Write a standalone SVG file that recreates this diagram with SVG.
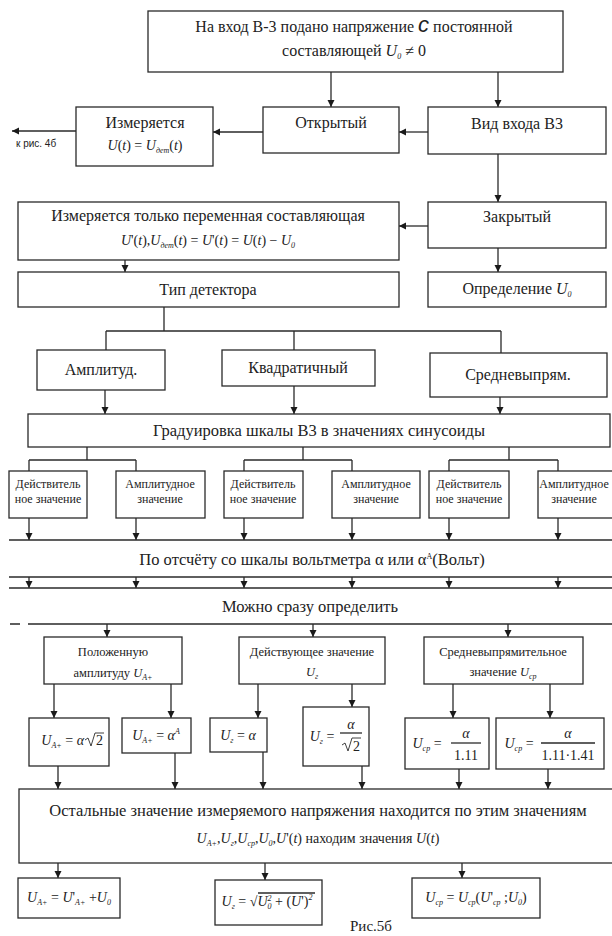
<svg xmlns="http://www.w3.org/2000/svg" width="612" height="936" viewBox="0 0 612 936" font-family="Liberation Serif, serif">
<defs>
<marker id="ah" viewBox="0 0 10 10" refX="10" refY="5" markerWidth="7" markerHeight="8" markerUnits="userSpaceOnUse" orient="auto">
<path d="M0,0 L10,5 L0,10 z" fill="#1a1a1a"/>
</marker>
<style>
.b{fill:#fff;stroke:#2a2a2a;stroke-width:1.3}
.c{fill:none;stroke:#2a2a2a;stroke-width:1.3}
.r{fill:none;stroke:#2a2a2a;stroke-width:0.9}
.a{fill:none;stroke:#2a2a2a;stroke-width:1.3;marker-end:url(#ah)}
text{font-family:"Liberation Serif",serif;fill:#222}
.t{font-size:16px;text-anchor:middle}
.m{font-size:16.5px;text-anchor:middle}
.s{font-size:12px;text-anchor:middle}
.n{font-size:12.5px;text-anchor:middle}
.i{font-style:italic}
.f{font-size:14px;text-anchor:middle}
.fe{font-size:14px;text-anchor:end}
.fs{font-size:14px;text-anchor:start}
.sub{font-size:8px;font-style:italic}
.sans{font-family:"Liberation Sans",sans-serif}
</style>
</defs>
<rect width="612" height="936" fill="#fff"/>

<g id="connectors">
<path class="a" d="M331,72 V107"/>
<path class="a" d="M498,72 V107"/>
<path class="a" d="M428,132 H399"/>
<path class="a" d="M263,132 H213"/>
<path class="a" d="M76,131 H12"/>
<path class="a" d="M498,154 V202"/>
<path class="a" d="M428,226 H399"/>
<path class="a" d="M498,248 V272"/>
<path class="a" d="M125,260 V272"/>
<path class="c" d="M164,307 V331 M106,331 H501 M106,331 V350 M294,331 V350 M501,331 V353"/>
<path class="a" d="M105,390 V414"/>
<path class="a" d="M294,386 V414"/>
<path class="a" d="M500,397 V414"/>
<path class="c" d="M87,447 V460 M29,460 H136 M29,460 V471 M136,460 V471"/>
<path class="c" d="M303,447 V460 M244,460 H352 M244,460 V471 M352,460 V471"/>
<path class="c" d="M509,447 V460 M449,460 H558 M449,460 V471 M558,460 V471"/>
<path class="a" d="M29,518 V540"/>
<path class="a" d="M136,518 V540"/>
<path class="a" d="M244,518 V540"/>
<path class="a" d="M352,518 V540"/>
<path class="a" d="M449,518 V540"/>
<path class="a" d="M558,518 V540"/>
<path class="c" d="M9,540 H612"/>
<path class="c" d="M9,577 H612"/>
<path class="a" d="M29,577 V588"/>
<path class="a" d="M136,577 V588"/>
<path class="a" d="M244,577 V588"/>
<path class="a" d="M352,577 V588"/>
<path class="a" d="M449,577 V588"/>
<path class="a" d="M558,577 V588"/>
<path class="c" d="M9,588 H612"/>
<path class="c" d="M10,624 H20 M28,624 H612"/>
<path class="a" d="M107,624 V637"/>
<path class="a" d="M313,624 V637"/>
<path class="a" d="M508,624 V637"/>
<path class="a" d="M54,684 V718"/>
<path class="a" d="M171,684 V718"/>
<path class="a" d="M258,684 V718"/>
<path class="a" d="M352,684 V707"/>
<path class="a" d="M453,684 V718"/>
<path class="a" d="M550,684 V718"/>
<path class="a" d="M58,766 V789"/>
<path class="a" d="M175,753 V789"/>
<path class="a" d="M263,752 V789"/>
<path class="a" d="M362,766 V789"/>
<path class="a" d="M459,769 V789"/>
<path class="a" d="M548,769 V789"/>
<path class="a" d="M58,863 V878"/>
<path class="a" d="M265,863 V880"/>
<path class="a" d="M462,863 V878"/>
</g>

<g id="n-top">
<rect class="b" x="148" y="11" width="415" height="61"/>
<text class="t" x="354" y="32">На вход В-3 подано напряжение <tspan font-size="22" font-style="italic" class="sans">c</tspan>  постоянной</text>
<text class="t" x="354" y="56">составляющей   <tspan class="i">U</tspan><tspan class="sub" dy="3">0</tspan><tspan dy="-3"> ≠ 0</tspan></text>
</g>

<g id="n-vid">
<rect class="b" x="428" y="107" width="178" height="47"/>
<text class="t" x="517" y="129">Вид входа В3</text>
</g>

<g id="n-open">
<rect class="b" x="263" y="107" width="136" height="46"/>
<text class="t" x="331" y="128">Открытый</text>
</g>

<g id="n-meas">
<rect class="b" x="76" y="107" width="137" height="59"/>
<text class="t" x="145" y="128">Измеряется</text>
<text class="f" x="145" y="150"><tspan class="i">U</tspan>(<tspan class="i">t</tspan>) = <tspan class="i">U</tspan><tspan class="sub" dy="3">дет</tspan><tspan dy="-3">(</tspan><tspan class="i">t</tspan>)</text>
</g>
<text class="sans" x="16" y="147" font-size="10">к рис. 4б</text>

<g id="n-closed">
<rect class="b" x="428" y="202" width="178" height="46"/>
<text class="t" x="517" y="222">Закрытый</text>
</g>

<g id="n-ac">
<rect class="b" x="18" y="202" width="381" height="58"/>
<text class="t" x="208" y="221">Измеряется только переменная составляющая</text>
<text class="f" x="208" y="245"><tspan class="i">U</tspan>'(<tspan class="i">t</tspan>),<tspan class="i">U</tspan><tspan class="sub" dy="3">дет</tspan><tspan dy="-3">(</tspan><tspan class="i">t</tspan>) = <tspan class="i">U</tspan>'(<tspan class="i">t</tspan>) = <tspan class="i">U</tspan>(<tspan class="i">t</tspan>) − <tspan class="i">U</tspan><tspan class="sub" dy="3">0</tspan></text>
</g>

<g id="n-u0">
<rect class="b" x="428" y="272" width="178" height="35"/>
<text class="t" x="517" y="294">Определение <tspan class="i">U</tspan><tspan class="sub" dy="3">0</tspan></text>
</g>

<g id="n-det">
<rect class="b" x="18" y="272" width="381" height="35"/>
<text class="t" x="208" y="295">Тип детектора</text>
</g>

<g id="n-amp">
<rect class="b" x="37" y="350" width="128" height="40"/>
<text class="t" x="101" y="375">Амплитуд.</text>
</g>
<g id="n-sq">
<rect class="b" x="222" y="350" width="153" height="36"/>
<text class="t" x="298" y="373">Квадратичный</text>
</g>
<g id="n-avg">
<rect class="b" x="430" y="353" width="177" height="44"/>
<text class="t" x="518" y="380">Средневыпрям.</text>
</g>

<g id="n-grad">
<rect class="b" x="28" y="414" width="582" height="33"/>
<text class="m" x="319" y="436">Градуировка шкалы В3 в значениях синусоиды</text>
</g>

<g id="n-d1">
<rect class="b" x="9" y="471" width="78" height="47"/>
<text class="s" x="48" y="488">Действитель</text>
<text class="s" x="48" y="503">ное значение</text>
</g>
<g id="n-a1">
<rect class="b" x="116" y="471" width="89" height="47"/>
<text class="s" x="160" y="488">Амплитудное</text>
<text class="s" x="160" y="503">значение</text>
</g>
<g id="n-d2">
<rect class="b" x="224" y="471" width="79" height="47"/>
<text class="s" x="263" y="488">Действитель</text>
<text class="s" x="263" y="503">ное значение</text>
</g>
<g id="n-a2">
<rect class="b" x="332" y="471" width="88" height="47"/>
<text class="s" x="376" y="488">Амплитудное</text>
<text class="s" x="376" y="503">значение</text>
</g>
<g id="n-d3">
<rect class="b" x="429" y="471" width="80" height="47"/>
<text class="s" x="469" y="488">Действитель</text>
<text class="s" x="469" y="503">ное значение</text>
</g>
<g id="n-a3">
<rect class="b" x="538" y="471" width="80" height="47"/>
<text class="s" x="574" y="488" font-size="11.5">Амплитудное</text>
<text class="s" x="574" y="503">значение</text>
</g>

<g id="n-read">
<text class="m" x="312" y="565">По  отсчёту со шкалы вольтметра α или α<tspan font-size="8" dy="-6">A</tspan><tspan dy="6">(Вольт)</tspan></text>
</g>
<g id="n-can">
<text class="m" x="310" y="612">Можно сразу определить</text>
</g>

<g id="n-pa">
<rect class="b" x="44" y="637" width="138" height="47"/>
<text class="n" x="113" y="656">Положенную</text>
<text class="n" x="113" y="677">амплитуду  <tspan class="i">U</tspan><tspan class="sub" dy="3">А+</tspan></text>
</g>
<g id="n-rms">
<rect class="b" x="239" y="637" width="146" height="47"/>
<text class="n" x="312" y="656">Действующее значение</text>
<text class="n i" x="312" y="676">U<tspan class="sub" dy="3">г</tspan></text>
</g>
<g id="n-sr">
<rect class="b" x="424" y="637" width="159" height="47"/>
<text class="n" x="503" y="656">Средневыпрямительное</text>
<text class="n" x="503" y="676">значение <tspan class="i">U</tspan><tspan class="sub" dy="3">ср</tspan></text>
</g>

<g id="n-f1">
<rect class="b" x="29" y="718" width="80" height="48"/>
<text class="fe" x="84" y="745"><tspan class="i">U</tspan><tspan class="sub" dy="3">А+</tspan><tspan dy="-3"> = </tspan><tspan class="i">α</tspan></text>
<path class="r" d="M85,740 L88,738 L91,746 L95,733 H104"/>
<text class="fs" x="96" y="745">2</text>
</g>
<g id="n-f2">
<rect class="b" x="122" y="718" width="69" height="35"/>
<text class="f" x="156" y="740"><tspan class="i">U</tspan><tspan class="sub" dy="3">А+</tspan><tspan dy="-3"> = </tspan><tspan class="i">α</tspan><tspan class="sub" dy="-6">A</tspan></text>
</g>
<g id="n-f3">
<rect class="b" x="210" y="718" width="57" height="34"/>
<text class="f" x="238" y="740"><tspan class="i">U</tspan><tspan class="sub" dy="3">г</tspan><tspan dy="-3"> = </tspan><tspan class="i">α</tspan></text>
</g>
<g id="n-f4">
<rect class="b" x="303" y="707" width="66" height="59"/>
<text class="f" x="322" y="741"><tspan class="i">U</tspan><tspan class="sub" dy="3">г</tspan><tspan dy="-3"> =</tspan></text>
<text class="f i" x="351" y="729">α</text>
<path class="c" d="M340,733 H362" stroke-width="0.8"/>
<path class="r" d="M342,745 L345,743 L348,751 L352,738 H361"/>
<text class="fs" x="353" y="751">2</text>
</g>
<g id="n-f5">
<rect class="b" x="405" y="718" width="84" height="51"/>
<text class="f" x="427" y="748"><tspan class="i">U</tspan><tspan class="sub" dy="3">ср</tspan><tspan dy="-3"> =</tspan></text>
<text class="f i" x="466" y="738">α</text>
<path class="c" d="M451,743 H481" stroke-width="0.8"/>
<text class="f" x="466" y="760">1.11</text>
</g>
<g id="n-f6">
<rect class="b" x="496" y="718" width="108" height="51"/>
<text class="f" x="519" y="748"><tspan class="i">U</tspan><tspan class="sub" dy="3">ср</tspan><tspan dy="-3"> =</tspan></text>
<text class="f i" x="568" y="738">α</text>
<path class="c" d="M541,743 H595" stroke-width="0.8"/>
<text class="f" x="568" y="760">1.11·1.41</text>
</g>

<g id="n-rest">
<rect class="b" x="19" y="789" width="594" height="74"/>
<text class="m" x="318" y="816">Остальные значение измеряемого напряжения  находится по этим значениям</text>
<text class="f" x="318" y="843"><tspan class="i">U</tspan><tspan class="sub" dy="3">А+</tspan><tspan dy="-3">,</tspan><tspan class="i">U</tspan><tspan class="sub" dy="3">г</tspan><tspan dy="-3">,</tspan><tspan class="i">U</tspan><tspan class="sub" dy="3">ср</tspan><tspan dy="-3">,</tspan><tspan class="i">U</tspan><tspan class="sub" dy="3">0</tspan><tspan dy="-3">,</tspan><tspan class="i">U</tspan>'(<tspan class="i">t</tspan>) находим значения <tspan class="i">U</tspan>(<tspan class="i">t</tspan>)</text>
</g>

<g id="n-r1">
<rect class="b" x="18" y="878" width="102" height="40"/>
<text class="f" x="69" y="902"><tspan class="i">U</tspan><tspan class="sub" dy="3">А+</tspan><tspan dy="-3"> = </tspan><tspan class="i">U</tspan>'<tspan class="sub" dy="3">А+</tspan><tspan dy="-3"> +</tspan><tspan class="i">U</tspan><tspan class="sub" dy="3">0</tspan></text>
</g>
<g id="n-r2">
<rect class="b" x="215" y="880" width="107" height="45"/>
<text class="f" x="267" y="906"><tspan class="i">U</tspan><tspan class="sub" dy="3">г</tspan><tspan dy="-3"> = √</tspan><tspan class="i">U</tspan><tspan class="sub" dy="-5">2</tspan><tspan class="sub" dx="-4" dy="8">0</tspan><tspan dy="-3"> + (</tspan><tspan class="i">U</tspan>')<tspan class="sub" dy="-6">2</tspan></text>
<path class="c" d="M258,893 H315" stroke-width="0.8"/>
</g>
<g id="n-r3">
<rect class="b" x="412" y="878" width="128" height="40"/>
<text class="f" x="476" y="902"><tspan class="i">U</tspan><tspan class="sub" dy="3">ср</tspan><tspan dy="-3"> = </tspan><tspan class="i">U</tspan><tspan class="sub" dy="3">ср</tspan><tspan dy="-3">(</tspan><tspan class="i">U</tspan>'<tspan class="sub" dy="3">ср</tspan><tspan dy="-3"> ;</tspan><tspan class="i">U</tspan><tspan class="sub" dy="3">0</tspan><tspan dy="-3">)</tspan></text>
</g>

<text x="371" y="931" font-size="15" text-anchor="middle">Рис.5б</text>
</svg>
